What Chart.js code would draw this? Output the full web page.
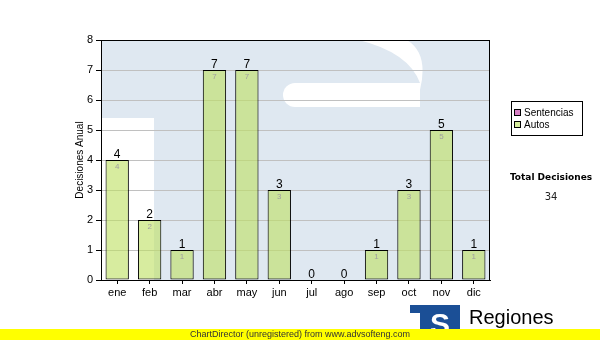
<!DOCTYPE html>
<html><head><meta charset="utf-8">
<script src="https://cdn.jsdelivr.net/npm/chart.js@4"></script>
<style>html,body{margin:0;padding:0;background:#fff}#wrap{position:relative;width:600px;height:340px}</style>
</head><body><div id="wrap"><canvas id="c" width="600" height="340"></canvas></div>
<script>
const months = ['ene','feb','mar','abr','may','jun','jul','ago','sep','oct','nov','dic'];
const sentencias = [0,0,0,0,0,0,0,0,0,0,0,0];
const autos = [4,2,1,7,7,3,0,0,1,3,5,1];
const yMax = 8;
const seriesNames = ['Sentencias','Autos'];
const seriesColors = ['#d77fc4','#d5ec9b'];
const totalTitle = 'Total Decisiones';
const yTitle = 'Decisiones Anual';
const footerText = 'ChartDirector (unregistered) from www.advsofteng.com';
const logoText = 'Regiones';

const totals = months.map((m,i)=>sentencias[i]+autos[i]);
const grandTotal = totals.reduce((a,b)=>a+b,0);

const bgPlugin = {
  id:'bg',
  beforeDraw(chart){
    const ctx = chart.ctx, a = chart.chartArea;
    ctx.save();
    ctx.fillStyle='#fff'; ctx.fillRect(0,0,chart.width,chart.height);
    ctx.beginPath(); ctx.rect(a.left,a.top,a.right-a.left,a.bottom-a.top); ctx.clip();
    ctx.fillStyle='#dfe8f1';
    ctx.fillRect(a.left,a.top,a.right-a.left,a.bottom-a.top);
    ctx.fillStyle='#fff';
    const L=a.left, T=a.top;
    // white area left of the T stem
    ctx.fillRect(L, T+78, 53, a.bottom-(T+78));
    // white S gaps (decorative watermark)
    ctx.beginPath();
    ctx.moveTo(L+194, T+43);
    ctx.lineTo(L+319, T+43);
    ctx.lineTo(L+319, T+67);
    ctx.lineTo(L+194, T+67);
    ctx.arc(L+194, T+55, 12, Math.PI/2, Math.PI*1.5);
    ctx.closePath(); ctx.fill();
    ctx.beginPath();
    ctx.moveTo(L+231, T-5);
    ctx.quadraticCurveTo(L+305, T+5, L+319, T+43);
    ctx.lineTo(L+319, T+50);
    ctx.quadraticCurveTo(L+330, T+5, L+294, T-5);
    ctx.closePath(); ctx.fill();
    ctx.restore();
  },
  afterDatasetsDraw(chart){
    const ctx = chart.ctx, a = chart.chartArea;
    const meta = chart.getDatasetMeta(1);
    const ys = chart.scales.y;
    ctx.save();
    ctx.textAlign='center';
    meta.data.forEach((bar,i)=>{
      const yTop = ys.getPixelForValue(totals[i]);
      ctx.fillStyle='#000';
      ctx.font='12px "Liberation Sans", Arial, sans-serif';
      ctx.textBaseline='alphabetic';
      ctx.fillText(String(totals[i]), bar.x, yTop-2);
      if(autos[i]>0){
        ctx.fillStyle='#a0a0a0';
        ctx.font='8px "Liberation Sans", Arial, sans-serif';
        ctx.textBaseline='top';
        ctx.fillText(String(autos[i]), bar.x, yTop+3);
      }
    });
    ctx.strokeStyle='#000'; ctx.lineWidth=1;
    ctx.strokeRect(Math.round(a.left)+0.5, Math.round(a.top)+0.5, Math.round(a.right-a.left)-1, Math.round(a.bottom-a.top));
    ctx.restore();
  },
  afterDraw(chart){
    const ctx = chart.ctx;
    ctx.save();
    // legend box
    ctx.strokeStyle='#000'; ctx.lineWidth=1;
    ctx.strokeRect(511.5,101.5,71,34);
    ctx.font='10px "Liberation Sans", Arial, sans-serif';
    ctx.textBaseline='middle'; ctx.textAlign='left';
    seriesNames.forEach((n,i)=>{
      const y = 113 + i*12;
      ctx.fillStyle=seriesColors[i];
      ctx.fillRect(514,y-4,7,7);
      ctx.strokeRect(514.5,y-3.5,6,6);
      ctx.fillStyle='#000';
      ctx.fillText(n,524,y);
    });
    ctx.textAlign='center';
    ctx.font='bold 9px "DejaVu Sans", Verdana, sans-serif';
    ctx.fillStyle='#000';
    ctx.fillText(totalTitle,551,178);
    ctx.font='10px "DejaVu Sans", Verdana, sans-serif';
    ctx.fillStyle='#222';
    ctx.fillText(String(grandTotal),551,197);
    // logo
    ctx.fillStyle='#1b4f96';
    ctx.fillRect(410,305,50,26);
    ctx.fillStyle='#fff';
    ctx.fillRect(410,313,10,20);
    ctx.font='bold 30px "Liberation Sans", Arial, sans-serif';
    ctx.textAlign='center'; ctx.textBaseline='alphabetic';
    ctx.fillText('S',440,334);
    ctx.fillStyle='#000';
    ctx.textAlign='left';
    ctx.font='20px "Liberation Sans", Arial, sans-serif';
    ctx.fillText(logoText,469,324);
    // footer bar
    ctx.fillStyle='#ffff00';
    ctx.fillRect(0,329,600,11);
    ctx.fillStyle='#333';
    ctx.textAlign='center'; ctx.textBaseline='middle';
    ctx.font='9px "Liberation Sans", Arial, sans-serif';
    ctx.fillText(footerText,300,334.5);
    ctx.restore();
  }
};

const zeroBorder = c => (c.raw===0 ? 0 : 1);

new Chart(document.getElementById('c'),{
  type:'bar',
  data:{
    labels:months,
    datasets:[
      {label:seriesNames[0],data:sentencias,backgroundColor:seriesColors[0],borderColor:'#000',borderWidth:zeroBorder,borderSkipped:false,categoryPercentage:1,barPercentage:0.72},
      {label:seriesNames[1],data:autos,backgroundColor:'rgba(190,225,100,0.62)',borderColor:'#000',borderWidth:zeroBorder,borderSkipped:false,categoryPercentage:1,barPercentage:0.72}
    ]
  },
  options:{
    responsive:false,animation:false,devicePixelRatio:1,
    layout:{padding:{left:70,right:110,top:40,bottom:35}},
    plugins:{legend:{display:false},tooltip:{enabled:false}},
    scales:{
      x:{stacked:true,
        grid:{display:true,drawOnChartArea:false,offset:false,tickLength:4,color:'#000',tickColor:'#000'},
        border:{display:true,color:'#000'},
        ticks:{color:'#000',font:{family:'"Liberation Sans", Arial, sans-serif',size:11},padding:2,maxRotation:0},
        afterFit(s){s.height=25;}
      },
      y:{stacked:true,min:0,max:yMax,
        grid:{color:'#c0c0c0',tickLength:5,tickColor:'#000'},
        border:{display:true,color:'#000'},
        ticks:{stepSize:1,color:'#000',font:{family:'"Liberation Sans", Arial, sans-serif',size:11},padding:3},
        title:{display:true,text:yTitle,color:'#000',font:{family:'"Liberation Sans", Arial, sans-serif',size:10},padding:{top:4,bottom:0}},
        afterFit(s){s.width=31;}
      }
    }
  },
  plugins:[bgPlugin]
});
</script></body></html>
